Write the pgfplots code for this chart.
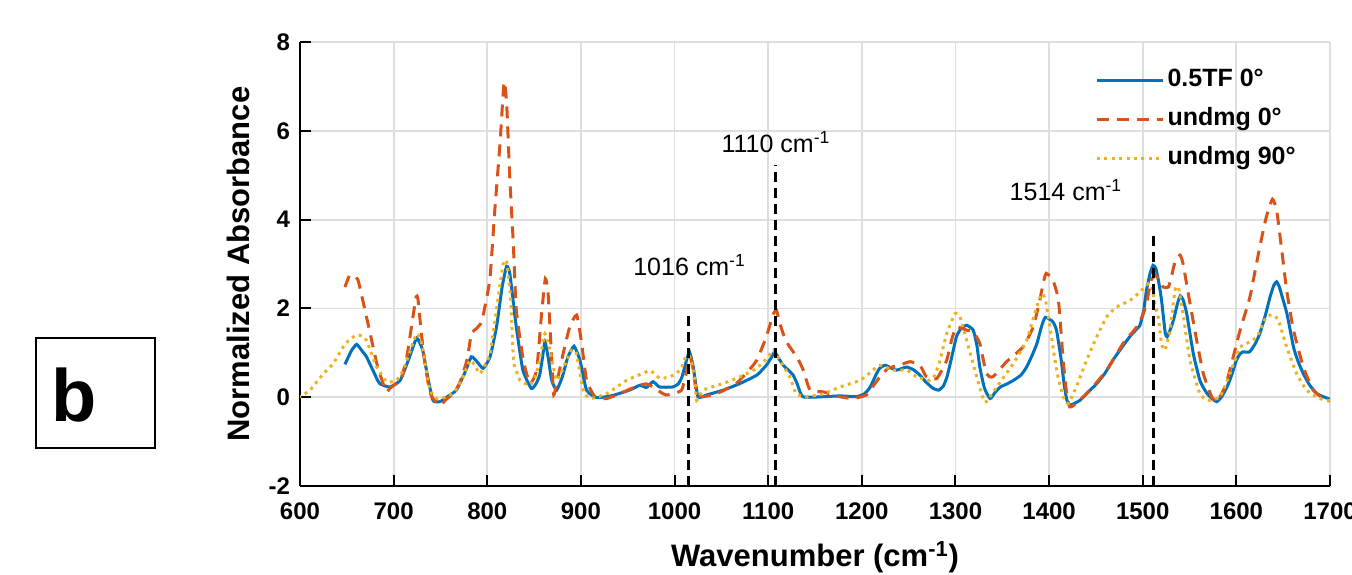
\documentclass[border=0pt]{standalone}
\usepackage{fontspec}
\setmainfont{Liberation Sans}
\usepackage{pgfplots}
\pgfplotsset{compat=1.18}
\definecolor{mblue}{rgb}{0,0.447,0.741}
\definecolor{morange}{rgb}{0.85,0.325,0.098}
\definecolor{myellow}{rgb}{0.929,0.694,0.125}
\begin{document}
\begin{tikzpicture}
\useasboundingbox (-150pt,-44pt) rectangle (526pt,243pt);
\draw[line width=0.8pt] (-132pt,19pt) rectangle (-72.5pt,74pt);
\node[anchor=base, inner sep=0pt, font=\fontsize{37}{40}\selectfont\bfseries] at (-112.75pt,32.5pt) {b};
\begin{axis}[
 scale only axis, width=515pt, height=222pt,
 xmin=600, xmax=1700, ymin=-2, ymax=8,
 xtick={600,700,...,1700}, ytick={-2,0,...,8},
 axis lines*=left, axis line style={line width=1pt, black, -},
 tick align=inside, major tick length=5.3pt, tick style={line width=1pt, black},
 grid=major, major grid style={line width=0.9pt, black!13},
 ticklabel style={font=\fontsize{12}{14}\selectfont\bfseries},
 xticklabel style={yshift=-5pt},
 yticklabel style={xshift=-1.5pt},
 /pgf/number format/assume math mode=true,
 /pgf/number format/1000 sep={},
 scaled ticks=false,
 xlabel={Wavenumber (cm\textsuperscript{-1})},
 ylabel={Normalized Absorbance},
 label style={font=\fontsize{15.5}{17}\selectfont\bfseries},
 xlabel style={at={(axis description cs:0.5,-0.16)}, anchor=center},
 ylabel style={at={(axis description cs:-0.0602,0.5)}, anchor=center},
 legend style={at={(rel axis cs:0.772,0.947)}, anchor=north west, draw=none, fill=none,
   inner sep=0pt, row sep=4.5pt, font=\fontsize{12.5}{14}\selectfont\bfseries,
   nodes={inner sep=1.5pt, text height=9pt, text depth=3pt}},
 legend cell align=left,
 legend image code/.code={\draw[#1] (0pt,0pt) -- (33pt,0pt);},
 clip=true,
]
\addplot[mblue, line width=1.5pt, smooth, tension=0.3] coordinates {
(648,0.74) (655,1.05) (660.5,1.19) (666,1.05) (671,0.91) (678,0.6) (685,0.31) (696,0.23) (707,0.38) (716,0.85) (724.6,1.33) (731,1.06) (736,0.5) (742,-0.07) (749.5,-0.1) (758,0.02) (767,0.16) (776,0.55) (783,0.91) (789,0.8) (795.6,0.65) (803,0.91) (810,1.6) (816,2.5) (820.7,2.95) (824,2.79) (828,2.1) (831,1.58) (838,0.61) (847,0.2) (852,0.3) (856,0.5) (859,0.9) (861.6,1.25) (865,0.9) (868.8,0.38) (874,0.16) (880,0.45) (886,0.9) (892.6,1.15) (899,0.83) (906,0.16) (917,-0.01) (934,0.04) (952,0.16) (963,0.27) (970,0.22) (977,0.35) (984,0.23) (998,0.23) (1004,0.3) (1008,0.46) (1013,0.85) (1016,1.02) (1020,0.68) (1025,0.01) (1034,0.05) (1052,0.16) (1070,0.31) (1088,0.5) (1098,0.72) (1103,0.88) (1107,1.02) (1112,0.85) (1116,0.72) (1121,0.62) (1126.6,0.5) (1131,0.3) (1137,0.01) (1158,0.01) (1177,0.03) (1194,0.01) (1203,0.08) (1209,0.23) (1215,0.5) (1219,0.65) (1225,0.72) (1231,0.66) (1237,0.61) (1243,0.65) (1248,0.68) (1255,0.62) (1262,0.5) (1268,0.35) (1276,0.2) (1282,0.16) (1287,0.25) (1291,0.46) (1296,0.9) (1301,1.36) (1306,1.55) (1312,1.62) (1319,1.51) (1323,1.15) (1326,0.68) (1331,0.2) (1337,-0.03) (1342,0.1) (1348,0.23) (1355,0.3) (1362,0.38) (1370,0.5) (1376,0.68) (1382,0.95) (1387,1.21) (1392,1.6) (1396,1.8) (1404,1.7) (1408,1.5) (1413,0.83) (1416,0.3) (1419,-0.07) (1422,-0.18) (1427,-0.14) (1433,-0.07) (1442,0.12) (1451,0.31) (1460,0.55) (1468,0.83) (1477,1.1) (1486,1.36) (1492,1.5) (1497,1.62) (1501,1.95) (1504,2.41) (1508,2.8) (1511,2.97) (1514,2.9) (1517,2.6) (1520,2.2) (1524,1.45) (1526,1.36) (1529,1.5) (1533,1.75) (1537,2.1) (1540,2.28) (1543,2.2) (1547,1.88) (1554,0.98) (1561,0.38) (1566,0.17) (1570,0.05) (1575,-0.05) (1579,-0.1) (1584,0.0) (1590,0.23) (1595,0.5) (1600,0.83) (1604,0.98) (1607,1.02) (1614,1.02) (1620,1.2) (1625,1.43) (1631,1.85) (1636,2.26) (1640,2.52) (1643,2.6) (1646,2.48) (1648,2.33) (1654,1.88) (1661,1.13) (1666,0.8) (1671.5,0.53) (1678,0.28) (1686,0.08) (1692,0.02) (1700,-0.05)
};
\addlegendentry{0.5TF 0°}
\addplot[morange, line width=1.5pt, dash pattern=on 6pt off 4pt, smooth, tension=0.3] coordinates {
(648,2.48) (653,2.75) (658,2.72) (662,2.64) (669,2.0) (675,1.43) (682,0.76) (688,0.35) (692.6,0.12) (696,0.2) (702,0.3) (708.6,0.46) (714,0.9) (719,1.58) (724,2.26) (726,2.2) (730,1.36) (733.5,0.76) (737,0.3) (740.6,0.01) (749.5,-0.18) (756,-0.05) (763.7,0.08) (770,0.3) (774,0.53) (779,0.9) (783,1.43) (788.6,1.55) (794,1.7) (799,2.2) (803,2.7) (808,4.2) (813.6,5.71) (817.9,7.1) (820.7,6.61) (824,4.96) (827.8,3.46) (831,1.96) (838.5,0.83) (845.6,0.31) (852.7,0.61) (858,1.88) (862,2.67) (865,2.33) (868.8,0.83) (871,0.05) (876,0.5) (881,0.98) (888,1.58) (895.5,1.85) (900.8,1.21) (906,0.38) (915,0.01) (927.5,-0.03) (941.7,0.08) (952,0.18) (963,0.27) (970,0.3) (977,0.23) (986,0.1) (991,0.05) (998.7,0.08) (1007.6,0.16) (1012,0.5) (1016.5,0.91) (1020,0.61) (1023.6,0.08) (1030.7,0.01) (1044.8,0.08) (1055,0.18) (1066,0.31) (1077,0.55) (1087.7,0.83) (1098,1.36) (1105.5,1.88) (1109,1.95) (1112,1.7) (1116,1.43) (1121,1.2) (1126.8,1.02) (1132,0.85) (1137.5,0.61) (1144.7,0.16) (1158.8,0.12) (1176.7,0.01) (1191,-0.03) (1205,0.05) (1212,0.25) (1219.4,0.46) (1228,0.65) (1240,0.72) (1251.5,0.8) (1262,0.72) (1269,0.46) (1280,0.42) (1290.6,0.83) (1296,1.3) (1301,1.58) (1312,1.51) (1319,1.47) (1326,1.21) (1333,0.53) (1340,0.46) (1354.6,0.8) (1372,1.13) (1383,1.58) (1390,2.18) (1394,2.6) (1397,2.79) (1404,2.64) (1410,2.18) (1415,0.83) (1418.8,0.08) (1422,-0.22) (1429,-0.14) (1443.7,0.16) (1461.5,0.61) (1479,1.21) (1493.5,1.58) (1500,1.85) (1504,2.11) (1509,2.64) (1514,2.75) (1518,2.6) (1522,2.48) (1527.4,2.48) (1531,2.75) (1534.5,3.05) (1539.8,3.2) (1543,3.01) (1550.5,2.11) (1557.6,1.28) (1564.7,0.53) (1573.6,0.01) (1579,-0.1) (1587.8,0.23) (1593,0.61) (1604,1.51) (1614.5,2.26) (1625,3.39) (1632,4.06) (1638.5,4.46) (1643,4.21) (1648,3.39) (1653.7,2.41) (1661,1.51) (1671.5,0.68) (1682,0.16) (1696,-0.07) (1700,-0.08)
};
\addlegendentry{undmg 0°}
\addplot[myellow, line width=1.5pt, dash pattern=on 1.5pt off 2.2pt, smooth, tension=0.3] coordinates {
(598,0.0) (603,0.05) (610.7,0.16) (618,0.35) (625,0.53) (635.6,0.76) (646,1.13) (653,1.3) (660.5,1.40) (666,1.38) (671,1.28) (676,1.0) (682,0.68) (692.6,0.35) (703,0.38) (710,0.6) (717,1.0) (724.6,1.43) (730,1.21) (735,0.6) (738.8,0.16) (746,-0.03) (755,0.0) (765,0.12) (774,0.45) (781.6,0.83) (787,0.7) (792,0.53) (797,0.7) (803,0.98) (810,2.0) (817,3.01) (820.7,3.05) (825,2.2) (828,0.83) (831,0.6) (835,0.38) (845.6,0.27) (852,0.5) (858,1.06) (861.6,1.43) (867,1.06) (874,0.38) (882,0.7) (890,1.06) (895,1.0) (902.5,0.16) (909.7,-0.03) (927.5,0.08) (948.8,0.38) (962,0.5) (973.8,0.6) (980,0.5) (984.5,0.42) (993,0.45) (1002,0.53) (1008,0.7) (1011,0.87) (1015,0.95) (1018,0.8) (1021.8,0.38) (1023.6,-0.07) (1030.7,0.16) (1052,0.31) (1070,0.46) (1087.7,0.65) (1100,0.91) (1105.5,1.06) (1112.6,0.83) (1123,0.46) (1130,0.08) (1141,0.01) (1159,0.08) (1176.7,0.23) (1198,0.38) (1212,0.61) (1219.4,0.72) (1233.7,0.61) (1248,0.61) (1258.4,0.46) (1272.8,0.38) (1278,0.5) (1283.5,0.83) (1290.6,1.43) (1299.5,1.88) (1304.8,1.81) (1312,1.28) (1322.7,0.46) (1330,-0.07) (1333,-0.1) (1344,0.23) (1361.8,0.76) (1376,1.28) (1386.7,2.03) (1392,2.33) (1396,2.2) (1401,1.58) (1408,0.61) (1415,0.01) (1420.5,-0.14) (1429,0.23) (1440,0.83) (1450.8,1.36) (1461.5,1.81) (1472,2.03) (1486.4,2.18) (1497,2.37) (1506,2.56) (1510,2.45) (1513,2.1) (1517,1.75) (1520,1.21) (1523.8,1.06) (1529,1.51) (1534.5,2.41) (1538,2.48) (1543,1.88) (1550.5,0.83) (1561,0.08) (1570,-0.07) (1582.6,0.01) (1593,0.53) (1604,1.13) (1611,1.21) (1622,1.36) (1632,1.81) (1639.6,1.85) (1645,1.73) (1653.7,1.13) (1664.4,0.53) (1675,0.16) (1689,-0.03) (1700,-0.08)
};
\addlegendentry{undmg 90°}
\addplot[black, line width=1.5pt, dash pattern=on 5pt off 3pt, forget plot] coordinates {(1015,-2) (1015,1.91)};
\addplot[black, line width=1.5pt, dash pattern=on 5pt off 3pt, forget plot] coordinates {(1108,-2) (1108,5.22)};
\addplot[black, line width=1.5pt, dash pattern=on 5pt off 3pt, forget plot] coordinates {(1512,-2) (1512,3.72)};
\node[font=\fontsize{12.5}{14}\selectfont] at (axis cs:1016,2.97) {1016 cm\textsuperscript{-1}};
\node[font=\fontsize{12.5}{14}\selectfont] at (axis cs:1108.3,5.74) {1110 cm\textsuperscript{-1}};
\node[font=\fontsize{12.5}{14}\selectfont] at (axis cs:1418,4.66) {1514 cm\textsuperscript{-1}};
\end{axis}
\end{tikzpicture}
\end{document}
